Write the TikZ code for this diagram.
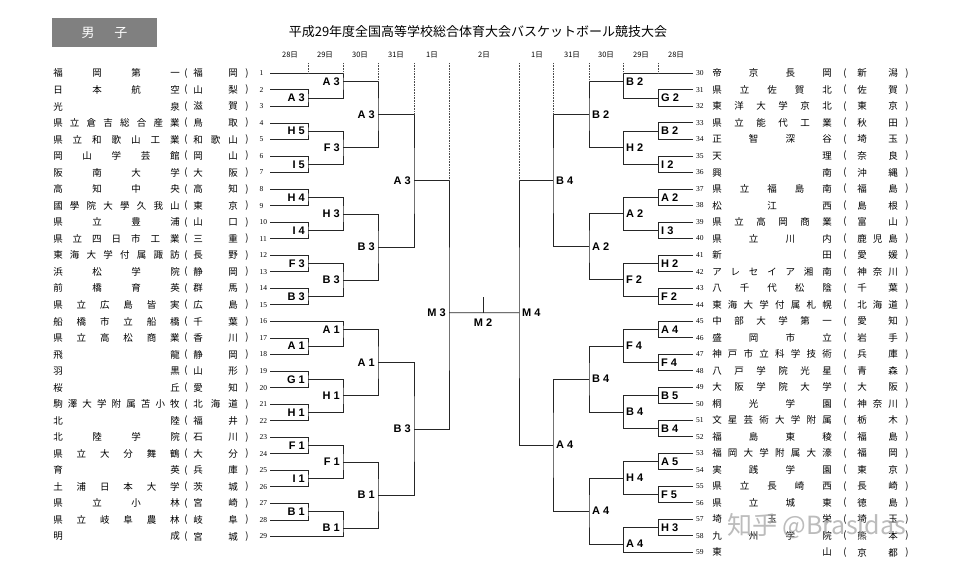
\documentclass[tikz,border=0pt]{standalone}
\usepackage{fontspec}
\setmainfont{Liberation Serif}
\newfontfamily\jp{Noto Sans CJK JP}
\newfontfamily\lsans{Liberation Sans}
\newfontfamily\wmf{Noto Sans CJK SC}
\usetikzlibrary{calc}
\makeatletter
\def\sprd#1{\spr@a#1\@nil}
\def\spr@a#1#2\@nil{#1\ifx\relax#2\relax\else\hfill\spr@a#2\@nil\fi}
\makeatother
\newcommand\bjn[7]{%
  \path let \p1=($(#1)!#5!(#2)$), \p2=(#3) in coordinate (#4) at (\x2,\y1);
  \draw[br] (#1) -| (#4) |- (#2);
  \node[lab#7] (#4-l) at (#4) {#6};
}
\begin{document}
\begin{tikzpicture}[x=1pt,y=-1pt,
  br/.style={draw=black!85, line width=0.75pt},
  dt/.style={draw=black!70, densely dotted, line width=0.6pt},
  lab/.style={font=\lsans\bfseries\fontsize{11}{11}\selectfont, inner sep=0pt},
  labL/.style={lab, anchor=east, xshift=-3pt},
  labR/.style={lab, anchor=west, xshift=3pt},
  nm/.style={font=\jp\fontsize{9.5}{9.5}\selectfont, inner sep=0pt, text=black},
  num/.style={font=\fontsize{7.5}{7.5}\selectfont, inner sep=0pt},
  dlab/.style={font=\jp\fontsize{7.5}{7.5}\selectfont, inner sep=0pt}]
\fill[white] (0,0) rectangle (960,567);
\useasboundingbox (0,0) rectangle (960,567);

% header
\node[fill=black!50, minimum width=105pt, minimum height=29pt, inner sep=0pt] (hdr) at (104.5,32.5)
  {\color{white}\jp\fontsize{13}{13}\selectfont\makebox[46pt]{\sprd{男子}}};
\node[font=\jp\fontsize{13}{13}\selectfont, inner sep=0pt] (title) at (478,31.5)
  {平成29年度全国高等学校総合体育大会バスケットボール競技大会};

% dates
\foreach \x/\t [count=\i] in {290/28日,325/29日,360/30日,396/31日,432/1日,484/2日,537/1日,572/31日,606/30日,641/29日,676/28日}
  \node[dlab] (d\i) at (\x,55) {\t};

% columns
\coordinate (colL1) at (308,0); \coordinate (colL2) at (343,0); \coordinate (colL3) at (378,0);
\coordinate (colL4) at (414,0); \coordinate (colL5) at (449,0);
\coordinate (colR1) at (658,0); \coordinate (colR2) at (623,0); \coordinate (colR3) at (589,0);
\coordinate (colR4) at (553,0); \coordinate (colR5) at (519,0);

% left teams
\foreach \k/\n/\p in {1/福岡第一/福岡,2/日本航空/山梨,3/光泉/滋賀,4/県立倉吉総合産業/鳥取,
  5/県立和歌山工業/和歌山,6/岡山学芸館/岡山,7/阪南大学/大阪,8/高知中央/高知,
  9/國學院大學久我山/東京,10/県立豊浦/山口,11/県立四日市工業/三重,12/東海大学付属諏訪/長野,
  13/浜松学院/静岡,14/前橋育英/群馬,15/県立広島皆実/広島,16/船橋市立船橋/千葉,
  17/県立高松商業/香川,18/飛龍/静岡,19/羽黒/山形,20/桜丘/愛知,
  21/駒澤大学附属苫小牧/北海道,22/北陸/福井,23/北陸学院/石川,24/県立大分舞鶴/大分,
  25/育英/兵庫,26/土浦日本大学/茨城,27/県立小林/宮崎,28/県立岐阜農林/岐阜,29/明成/宮城}{
  \coordinate (L\k) at (270,{73.3+(\k-1)*16.54});
  \node[nm] (NL\k) at (116.5,{73.3+(\k-1)*16.54}) {\makebox[126.5pt]{\expandafter\sprd\expandafter{\n}}};
  \node[nm] (opL\k) at (186,{73.3+(\k-1)*16.54}) {(};
  \node[nm] (PL\k) at (215.5,{73.3+(\k-1)*16.54}) {\makebox[44.5pt]{\expandafter\sprd\expandafter{\p}}};
  \node[nm] (clL\k) at (247,{73.3+(\k-1)*16.54}) {)};
  \node[num, anchor=west] (numL\k) at (259.5,{73.3+(\k-1)*16.54}) {\k};
}

% right teams
\foreach \k/\n/\p in {30/帝京長岡/新潟,31/県立佐賀北/佐賀,32/東洋大学京北/東京,33/県立能代工業/秋田,
  34/正智深谷/埼玉,35/天理/奈良,36/興南/沖縄,37/県立福島南/福島,38/松江西/島根,
  39/県立高岡商業/富山,40/県立川内/鹿児島,41/新田/愛媛,42/アレセイア湘南/神奈川,
  43/八千代松陰/千葉,44/東海大学付属札幌/北海道,45/中部大学第一/愛知,46/盛岡市立/岩手,
  47/神戸市立科学技術/兵庫,48/八戸学院光星/青森,49/大阪学院大学/大阪,50/桐光学園/神奈川,
  51/文星芸術大学附属/栃木,52/福島東稜/福島,53/福岡大学附属大濠/福岡,54/実践学園/東京,
  55/県立長崎西/長崎,56/県立城東/徳島,57/埼玉栄/埼玉,58/九州学院/熊本,59/東山/京都}{
  \coordinate (R\k) at (693,{73.3+(\k-30)*16.52});
  \node[num, anchor=west] (numR\k) at (696,{73.3+(\k-30)*16.52}) {\k};
  \node[nm] (NR\k) at (772,{73.3+(\k-30)*16.52}) {\makebox[119.5pt]{\expandafter\sprd\expandafter{\n}}};
  \node[nm] (opR\k) at (845,{73.3+(\k-30)*16.52}) {(};
  \node[nm] (PR\k) at (877.5,{73.3+(\k-30)*16.52}) {\makebox[40.5pt]{\expandafter\sprd\expandafter{\p}}};
  \node[nm] (clR\k) at (907,{73.3+(\k-30)*16.52}) {)};
}

% ---- left bracket
\bjn{L2}{L3}{colL1}{b23}{0.5}{A 3}{L}
\bjn{L1}{b23}{colL2}{j1}{0.3333}{A 3}{L}
\bjn{L4}{L5}{colL1}{b45}{0.5}{H 5}{L}
\bjn{L6}{L7}{colL1}{b67}{0.5}{I 5}{L}
\bjn{b45}{b67}{colL2}{j47}{0.5}{F 3}{L}
\bjn{j1}{j47}{colL3}{k1}{0.5}{A 3}{L}
\bjn{L8}{L9}{colL1}{b89}{0.5}{H 4}{L}
\bjn{L10}{L11}{colL1}{b1011}{0.5}{I 4}{L}
\bjn{b89}{b1011}{colL2}{j811}{0.5}{H 3}{L}
\bjn{L12}{L13}{colL1}{b1213}{0.5}{F 3}{L}
\bjn{L14}{L15}{colL1}{b1415}{0.5}{B 3}{L}
\bjn{b1213}{b1415}{colL2}{j1215}{0.5}{B 3}{L}
\bjn{j811}{j1215}{colL3}{k2}{0.5}{B 3}{L}
\bjn{k1}{k2}{colL4}{h1}{0.5}{A 3}{L}
\bjn{L17}{L18}{colL1}{b1718}{0.5}{A 1}{L}
\bjn{L16}{b1718}{colL2}{j16}{0.3333}{A 1}{L}
\bjn{L19}{L20}{colL1}{b1920}{0.5}{G 1}{L}
\bjn{L21}{L22}{colL1}{b2122}{0.5}{H 1}{L}
\bjn{b1920}{b2122}{colL2}{j1922}{0.5}{H 1}{L}
\bjn{j16}{j1922}{colL3}{k3}{0.5}{A 1}{L}
\bjn{L23}{L24}{colL1}{b2324}{0.5}{F 1}{L}
\bjn{L25}{L26}{colL1}{b2526}{0.5}{I 1}{L}
\bjn{b2324}{b2526}{colL2}{j2326}{0.5}{F 1}{L}
\bjn{L27}{L28}{colL1}{b2728}{0.5}{B 1}{L}
\bjn{b2728}{L29}{colL2}{j29}{0.6667}{B 1}{L}
\bjn{j2326}{j29}{colL3}{k4}{0.5}{B 1}{L}
\bjn{k3}{k4}{colL4}{h2}{0.5}{B 3}{L}
\bjn{h1}{h2}{colL5}{SL}{0.532}{M 3}{L}

% ---- right bracket
\bjn{R31}{R32}{colR1}{c3132}{0.5}{G 2}{R}
\bjn{R30}{c3132}{colR2}{r30}{0.3333}{B 2}{R}
\bjn{R33}{R34}{colR1}{c3334}{0.5}{B 2}{R}
\bjn{R35}{R36}{colR1}{c3536}{0.5}{I 2}{R}
\bjn{c3334}{c3536}{colR2}{r3336}{0.5}{H 2}{R}
\bjn{r30}{r3336}{colR3}{s1}{0.5}{B 2}{R}
\bjn{R37}{R38}{colR1}{c3738}{0.5}{A 2}{R}
\bjn{R39}{R40}{colR1}{c3940}{0.5}{I 3}{R}
\bjn{c3738}{c3940}{colR2}{r3740}{0.5}{A 2}{R}
\bjn{R41}{R42}{colR1}{c4142}{0.5}{H 2}{R}
\bjn{R43}{R44}{colR1}{c4344}{0.5}{F 2}{R}
\bjn{c4142}{c4344}{colR2}{r4144}{0.5}{F 2}{R}
\bjn{r3740}{r4144}{colR3}{s2}{0.5}{A 2}{R}
\bjn{s1}{s2}{colR4}{g1}{0.5}{B 4}{R}
\bjn{R45}{R46}{colR1}{c4546}{0.5}{A 4}{R}
\bjn{R47}{R48}{colR1}{c4748}{0.5}{F 4}{R}
\bjn{c4546}{c4748}{colR2}{r4548}{0.5}{F 4}{R}
\bjn{R49}{R50}{colR1}{c4950}{0.5}{B 5}{R}
\bjn{R51}{R52}{colR1}{c5152}{0.5}{B 4}{R}
\bjn{c4950}{c5152}{colR2}{r4952}{0.5}{B 4}{R}
\bjn{r4548}{r4952}{colR3}{s3}{0.5}{B 4}{R}
\bjn{R53}{R54}{colR1}{c5354}{0.5}{A 5}{R}
\bjn{R55}{R56}{colR1}{c5556}{0.5}{F 5}{R}
\bjn{c5354}{c5556}{colR2}{r5356}{0.5}{H 4}{R}
\bjn{R57}{R58}{colR1}{c5758}{0.5}{H 3}{R}
\bjn{c5758}{R59}{colR2}{r59}{0.6667}{A 4}{R}
\bjn{r5356}{r59}{colR3}{s4}{0.5}{A 4}{R}
\bjn{s3}{s4}{colR4}{g2}{0.5}{A 4}{R}
\bjn{g1}{g2}{colR5}{SR}{0.5}{M 4}{R}

% final
\draw[br] (SL) -- (SR);
\coordinate (m2t) at (483,297);
\draw[br] (m2t) -- (m2t |- SR);
\node[lab] (m2l) at (483,323) {M 2};

% dotted ticks
\coordinate (tL1) at (308,63); \coordinate (tL2) at (343,63); \coordinate (tL3) at (378,63);
\coordinate (tL4) at (414,63); \coordinate (tL5) at (449,63);
\coordinate (tR1) at (658,63); \coordinate (tR2) at (623,63); \coordinate (tR3) at (589,63);
\coordinate (tR4) at (553,63); \coordinate (tR5) at (519,63);
\draw[dt] (tL1) -- (tL1 |- L1);
\draw[dt] (tL2) -- (tL2 |- L1);
\draw[dt] (tL3) -- (tL3 |- j1);
\draw[dt] (tL4) -- (tL4 |- k1);
\draw[dt] (tL5) -- (tL5 |- h1);
\draw[dt] (tR1) -- (tR1 |- R30);
\draw[dt] (tR2) -- (tR2 |- R30);
\draw[dt] (tR3) -- (tR3 |- r30);
\draw[dt] (tR4) -- (tR4 |- s1);
\draw[dt] (tR5) -- (tR5 |- g1);

% watermark
\node[font=\wmf\fontsize{25}{25}\selectfont, text=black!35, text opacity=0.75, inner sep=0pt, anchor=west] (wm) at (727,526) {知乎 @Brasidas};
\end{tikzpicture}
\end{document}
